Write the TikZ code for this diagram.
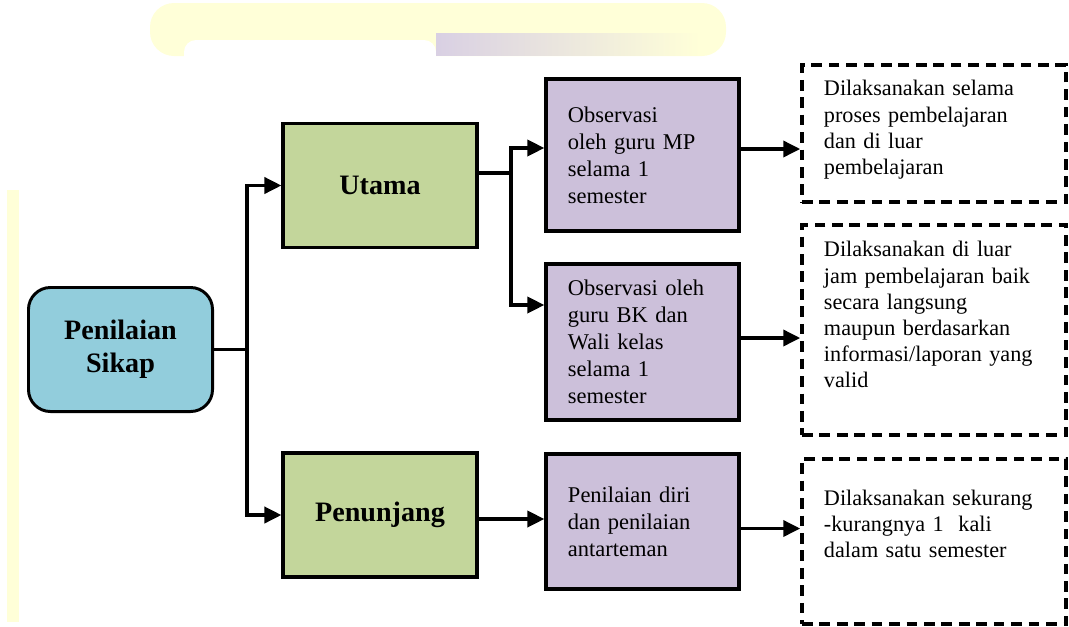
\documentclass[tikz,border=0pt]{standalone}
\usepackage{fontspec}
\setmainfont{Liberation Serif}
\usepackage{tikz}
\usetikzlibrary{arrows.meta,calc,positioning}
\definecolor{ccbiru}{HTML}{92CDDC}
\definecolor{cchijau}{HTML}{C3D69B}
\definecolor{ccungu}{HTML}{CCC0DA}
\definecolor{ffkuning}{HTML}{FFFFD8}
\tikzset{
  sikapbox/.style={draw,line width=2.1pt,fill=ccbiru,rounded corners=0.55cm,minimum width=4.6cm,minimum height=3.1cm,align=center,font=\fontsize{20}{23.5}\selectfont\bfseries},
  jenisbox/.style={draw,line width=2.3pt,fill=cchijau,minimum width=4.85cm,minimum height=3.1cm,font=\fontsize{20}{23.5}\selectfont\bfseries},
  carabox/.style={draw,line width=2.4pt,fill=ccungu,text width=3.725cm,inner xsep=0.55cm,align=left,font=\fontsize{16}{19.2}\selectfont},
  ketbox/.style={draw,line width=2.6pt,dash pattern=on 7.6pt off 4.8pt,text width=5.5cm,inner xsep=0.55cm,inner ysep=0pt,align=left,font=\fontsize{15.8}{18.6}\selectfont},
  panah/.style={line width=2.2pt,->}
}
\begin{document}
\begin{tikzpicture}[line join=miter,>={Triangle[length=12pt,width=11.5pt]},x=0.025cm,y=-0.025cm]
\useasboundingbox (0,0) rectangle (1069,626);
% latar
\fill[ffkuning,rounded corners=0.6cm] (150,3) rectangle (726,56);
\fill[white,rounded corners=0.3cm] (184,40) rectangle (436,70);
\shade[left color=ccungu!75,right color=ffkuning] (436,33) rectangle (700,55);
\fill[ffkuning] (7,190) rectangle (19,622);
% kotak
\node[sikapbox] (sikap) at (120.5,349.5) {Penilaian\\Sikap};
\node[jenisbox] (utama) at (380,185.5) {Utama};
\node[jenisbox] (penunjang) at (380,515) {Penunjang};
\node[carabox,minimum height=3.8cm] (obsmp) at (642.5,155) {Observasi\\oleh guru MP\\selama 1\\semester};
\node[carabox,minimum height=3.9cm] (obsbk) at (642.5,342) {Observasi oleh\\guru BK dan\\Wali kelas\\selama 1\\semester};
\node[carabox,minimum height=3.375cm] (diri) at (642.5,521.5) {Penilaian diri\\dan penilaian\\antarteman};
\node[ketbox,text height=0.775cm,text depth=2.65cm] (ketmp) at (934,133.5) {Dilaksanakan selama\\proses pembelajaran\\dan di luar\\pembelajaran};
\node[ketbox,text height=0.8cm,text depth=4.45cm] (ketbk) at (934,330) {Dilaksanakan di luar\\jam pembelajaran baik\\secara langsung\\maupun berdasarkan\\informasi/laporan yang\\valid};
\node[ketbox,text height=1.15cm,text depth=2.975cm] (ketdiri) at (934,541.5) {Dilaksanakan sekurang\\-kurangnya 1\ \ kali\\dalam satu semester};
% garis
\coordinate (cabang) at (247,349.5);
\draw[line width=2.2pt] (sikap.east) -- (cabang);
\draw[panah] (cabang) |- (utama.west);
\draw[panah] (cabang) |- (penunjang.west);
\coordinate (cabangb) at (511,173);
\draw[line width=2.2pt] (utama.east |- cabangb) -- (cabangb);
\draw[panah] (cabangb) |- ($(obsmp.west)+(0,-7)$);
\draw[panah] (cabangb) |- ($(obsbk.west)+(0,-37)$);
\draw[panah] ($(obsmp.east)+(0,-6)$) coordinate (a) -- (a -| ketmp.west);
\draw[panah] ($(obsbk.east)+(0,-4)$) coordinate (b) -- (b -| ketbk.west);
\draw[panah] ($(penunjang.east)+(0,4)$) coordinate (c) -- (c -| diri.west);
\draw[panah] ($(diri.east)+(0,7)$) coordinate (d) -- (d -| ketdiri.west);
\end{tikzpicture}
\end{document}
